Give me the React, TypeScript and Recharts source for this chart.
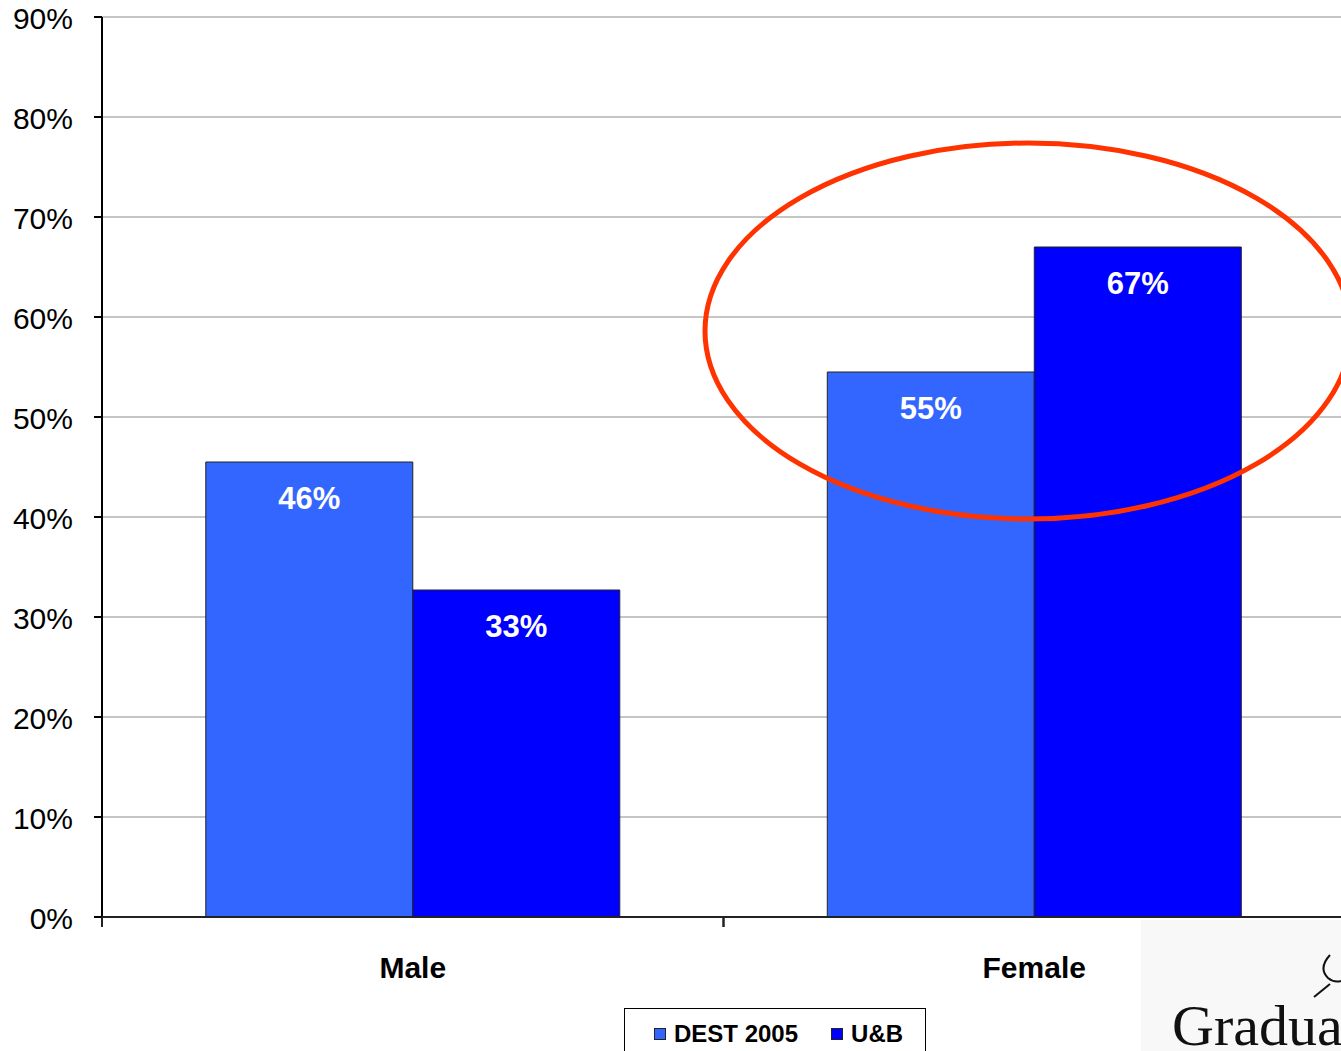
import React from "react";
import {
  Bar,
  BarChart,
  CartesianGrid,
  LabelList,
  Legend,
  XAxis,
  YAxis,
} from "recharts";

// survey share by gender, percent
const categories = ["Male", "Female"];
const dest2005 = [45.5, 54.5];
const ub = [32.7, 67.0];
const yTicks = [0, 10, 20, 30, 40, 50, 60, 70, 80, 90];

const seriesNames = { dest: "DEST 2005", ub: "U&B" };
const colors = { dest: "#3366FF", ub: "#0000FF" };

const data = categories.map((name, i) => ({
  name,
  dest: dest2005[i],
  ub: ub[i],
}));

const FONT = "'Liberation Sans', Arial, sans-serif";

const PercentTick = (props: any) => {
  const { x, y, payload } = props;
  return (
    <text
      x={x}
      y={y + 12}
      textAnchor="end"
      fontFamily={FONT}
      fontSize={30}
      fill="#000"
    >
      {payload.value}%
    </text>
  );
};

const CategoryTick = (props: any) => {
  const { x, y, payload } = props;
  const half = payload?.offset ?? 310;
  return (
    <g>
      <line x1={x - half} y1={y} x2={x - half} y2={y + 10} stroke="#222" strokeWidth={2} />
      <line x1={x + half} y1={y} x2={x + half} y2={y + 10} stroke="#222" strokeWidth={2} />
      <text
        x={x}
        y={y + 61}
        textAnchor="middle"
        fontFamily={FONT}
        fontWeight="bold"
        fontSize={30}
        fill="#000"
      >
        {payload.value}
      </text>
    </g>
  );
};

const BarValue = (props: any) => {
  const { x, y, width, value } = props;
  return (
    <text
      x={x + width / 2}
      y={y + 47}
      textAnchor="middle"
      fontFamily={FONT}
      fontWeight="bold"
      fontSize={31}
      fill="#fff"
    >
      {Math.round(value)}%
    </text>
  );
};

const LegendBox = () => (
  <div
    style={{
      boxSizing: "border-box",
      width: 302,
      height: 60,
      border: "1px solid #000",
      background: "#fff",
      fontFamily: FONT,
      fontWeight: "bold",
      fontSize: 24,
      display: "flex",
      alignItems: "flex-start",
      whiteSpace: "nowrap",
      paddingTop: 12,
      paddingLeft: 29,
    }}
  >
    {(["dest", "ub"] as const).map((k) => (
      <div
        key={k}
        style={{ display: "flex", alignItems: "center", flexShrink: 0, marginRight: 33 }}
      >
        <span
          style={{
            display: "inline-block",
            boxSizing: "border-box",
            width: 12,
            height: 12,
            background: colors[k],
            border: "1px solid #222",
            marginRight: 8,
            flexShrink: 0,
          }}
        />
        <span style={{ lineHeight: "26px" }}>{seriesNames[k]}</span>
      </div>
    ))}
  </div>
);

export default function App() {
  return (
    <div
      style={{
        position: "absolute",
        left: 0,
        top: 0,
        width: 1341,
        height: 1051,
        overflow: "hidden",
        background: "#fff",
      }}
    >
      <BarChart
        width={1400}
        height={1051}
        data={data}
        margin={{ top: 17, right: 55, bottom: 0, left: 0 }}
        barCategoryGap="16.7%"
        barGap={0}
      >
        <CartesianGrid vertical={false} stroke="#8c8c8c" strokeWidth={1} />
        <YAxis
          width={102}
          domain={[0, 90]}
          ticks={yTicks}
          interval={0}
          axisLine={{ stroke: "#000", strokeWidth: 2 }}
          tickLine={{ stroke: "#000", strokeWidth: 2 }}
          tickSize={8}
          tickMargin={21}
          tick={<PercentTick />}
        />
        <XAxis
          dataKey="name"
          height={134}
          axisLine={{ stroke: "#222", strokeWidth: 2 }}
          tickLine={false}
          tickSize={0}
          tickMargin={0}
          tick={<CategoryTick />}
          interval={0}
        />
        <Legend
          layout="horizontal"
          verticalAlign="middle"
          content={<LegendBox />}
          wrapperStyle={{ left: 624, top: 1008, width: 302, height: 60 }}
        />
        <Bar
          dataKey="dest"
          name={seriesNames.dest}
          fill={colors.dest}
          stroke="#222"
          strokeWidth={1}
          isAnimationActive={false}
        >
          <LabelList dataKey="dest" content={<BarValue />} />
        </Bar>
        <Bar
          dataKey="ub"
          name={seriesNames.ub}
          fill={colors.ub}
          stroke="#222"
          strokeWidth={1}
          isAnimationActive={false}
        >
          <LabelList dataKey="ub" content={<BarValue />} />
        </Bar>
      </BarChart>

      {/* highlight ring and logo corner */}
      <svg
        width={1341}
        height={1051}
        style={{ position: "absolute", left: 0, top: 0, pointerEvents: "none" }}
      >
        <ellipse
          cx={1028}
          cy={331}
          rx={323}
          ry={188}
          fill="none"
          stroke="#FF3300"
          strokeWidth={5}
        />
        <rect x={1141} y={920} width={200} height={131} fill="#f8f8f8" />
        <path
          d="M1330 955 Q1318 968 1328 978 Q1334 983 1341 981"
          fill="none"
          stroke="#111"
          strokeWidth={2}
        />
        <path d="M1314 997 L1330 984" fill="none" stroke="#111" strokeWidth={2} />
        <text
          x={1172}
          y={1045}
          fontFamily="'Liberation Serif', 'Times New Roman', serif"
          fontSize={58}
          fill="#111"
        >
          Gradua
        </text>
      </svg>
    </div>
  );
}
